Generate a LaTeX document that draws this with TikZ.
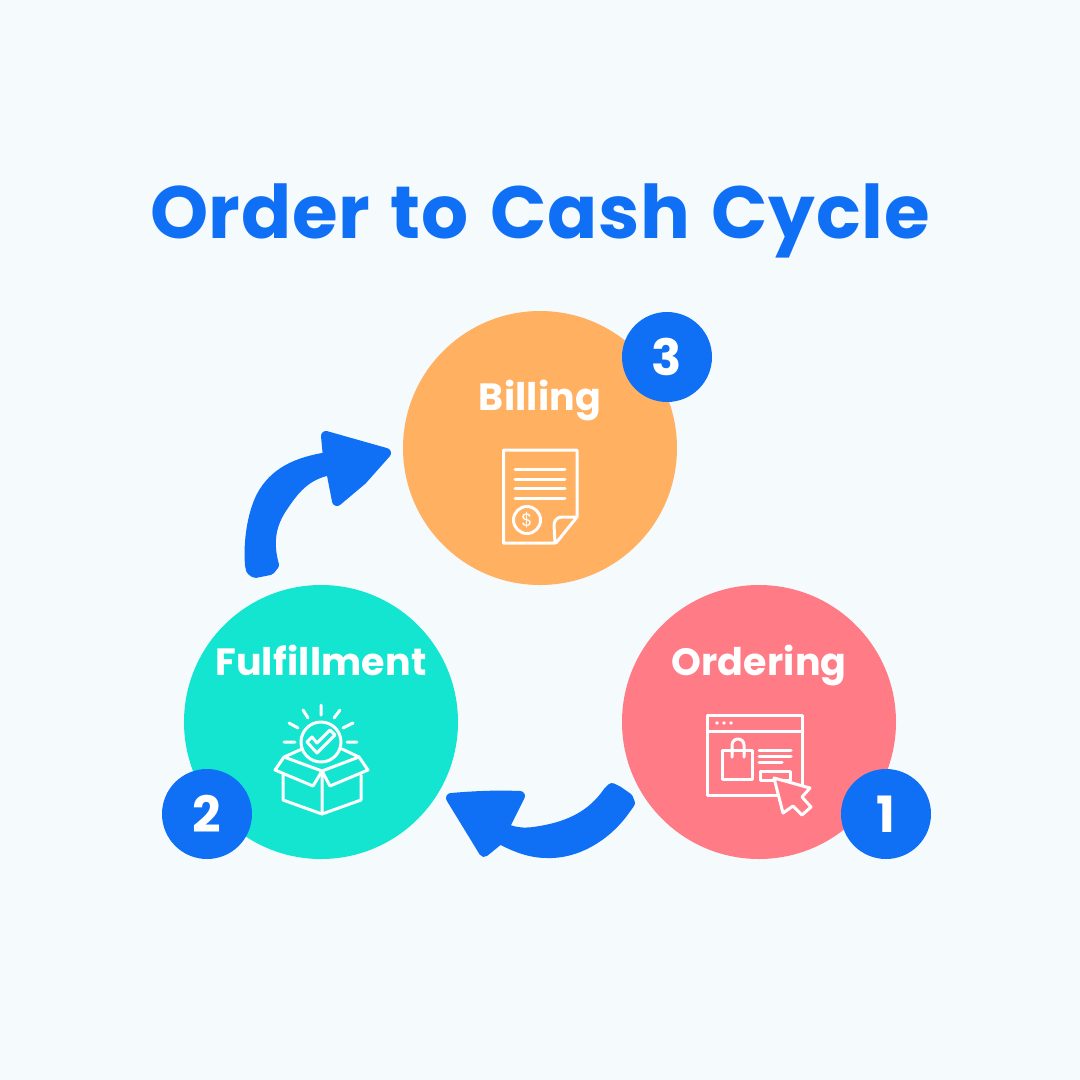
\documentclass[tikz,border=0pt]{standalone}
\usepackage{fontspec}
\setmainfont{Poppins}
\definecolor{bgc}{HTML}{F5FBFD}
\definecolor{bluec}{HTML}{1070F5}
\definecolor{orangec}{HTML}{FFB061}
\definecolor{tealc}{HTML}{14E5D0}
\definecolor{pinkc}{HTML}{FF7C87}
\tikzset{
  stage/.style={circle,minimum size=274pt,inner sep=0pt,fill=#1},
  badge/.style={circle,minimum size=90pt,inner sep=0pt,fill=bluec,text=white,font=\fontsize{50}{50}\selectfont\bfseries},
  stagelabel/.style={text=white,inner sep=0pt,anchor=base,font=\fontsize{38}{38}\selectfont\bfseries\addfontfeature{LetterSpace=0.5}},
  titletext/.style={text=bluec,inner sep=0pt,anchor=base,font=\fontsize{74}{74}\selectfont\bfseries\addfontfeature{LetterSpace=1}},
  flowarrow/.style={fill=bluec,draw=bluec,line width=10pt,line join=round},
  icon/.style={draw=white,line width=3pt,line cap=round,line join=round},
}
\begin{document}
\begin{tikzpicture}[x=1pt,y=-1pt]
\fill[bgc] (0,0) rectangle (1080,1080);
\useasboundingbox (0,0) rectangle (1080,1080);
\node[titletext] (title) at (540,238) {Order\hspace{4pt} to\hspace{5pt} Cash\hspace{5pt} Cycle};
% stages
\node[stage=orangec] (billing) at (540,448) {};
\node[stage=tealc] (fulfil) at (321,722) {};
\node[stage=pinkc] (ordering) at (759,722) {};
\node[stagelabel] (lb) at (540,410) {Billing};
\node[stagelabel] (lf) at (321,675) {Fulfillment};
\node[stagelabel] (lo) at (759,675) {Ordering};
\node[badge] (b3) at (667,357) {3};
\node[badge] (b2) at (207,814) {2};
\node[badge] (b1) at (886,814) {1};
% arrows
\draw[flowarrow] (451,798) .. controls (475,796) and (495,795) .. (520,796) -- (504,828)
  .. controls (518,834) and (528,833) .. (540,831)
  .. controls (570,826) and (592,815) .. (608,792) -- (612,788) -- (618,791) -- (628,798) -- (630,803) -- (625,810)
  .. controls (605,838) and (575,854) .. (547,853)
  .. controls (530,853) and (515,847) .. (500,839) -- (484,852) -- cycle;
\draw[flowarrow] (250,565) -- (251,570) -- (255,573) -- (270,570) -- (274,565)
  .. controls (267,540) and (272,522) .. (284,505)
  .. controls (296,487) and (308,474) .. (331,470)
  -- (337,501) -- (362,480) -- (386,453) -- (326,436) -- (328,457)
  .. controls (297,462) and (274,472) .. (261,497)
  .. controls (253,513) and (248,540) .. (250,565) -- cycle;
% billing icon
\draw[icon] (555,543) -- (503.5,543) -- (503.5,450) -- (577,450) -- (577,517) -- (556,543)
  (577,517) -- (562,517) .. controls (557,517) and (554,521) .. (554,525) -- (555,543);
\foreach \yy in {469,479,488,498} \draw[icon] (515,\yy) -- (565,\yy);
\draw[icon] (527,520) circle (13.5);
\node[text=white,inner sep=0pt,font=\fontsize{18}{18}\selectfont] (dollar) at (527,520) {\$};
% box icon
\draw[icon] (321,742) circle (20);
\draw[icon] (307,742) -- (317,753) -- (335,735) -- (330,730) -- (317,743) -- (312,737) -- cycle;
\draw[icon] (321,705) -- (321,715) (303,710) -- (308,718) (340,710) -- (334,718)
  (289,723) -- (298,728) (353,723) -- (343,728) (284,742) -- (295,742) (347,742) -- (357,742);
\draw[icon] (283,775) -- (283,800) -- (322,814) -- (361,800) -- (361,775) (322,771) -- (322,814);
\draw[icon] (322,771) -- (313,786) -- (275,770) -- (284,757) -- (322,771) -- (359,757) -- (368,770) -- (330,786) -- cycle;
\draw[icon] (284,757) -- (302,749) (359,757) -- (342,749);
% ordering icon
\draw[icon] (782,795) -- (707.5,795) -- (707.5,715) -- (802,715) -- (802,788) (707.5,731) -- (802,731);
\foreach \xx in {717,724,731} \fill[white] (\xx,723) circle (1.8);
\draw[icon] (722,750) rectangle (752,779);
\draw[icon] (732,757) -- (732,745) arc[start angle=180,end angle=360,radius=6] -- (744,757);
\draw[icon] (759,750) -- (791,750) (759,756) -- (791,756) (759,762) -- (782,762);
\draw[icon] (760,771) rectangle (790,780);
\draw[icon,fill=pinkc] (774,778) -- (810,788) -- (802,797) -- (811,807) -- (802,815) -- (793,806) -- (783,813) -- cycle;
\end{tikzpicture}
\end{document}
